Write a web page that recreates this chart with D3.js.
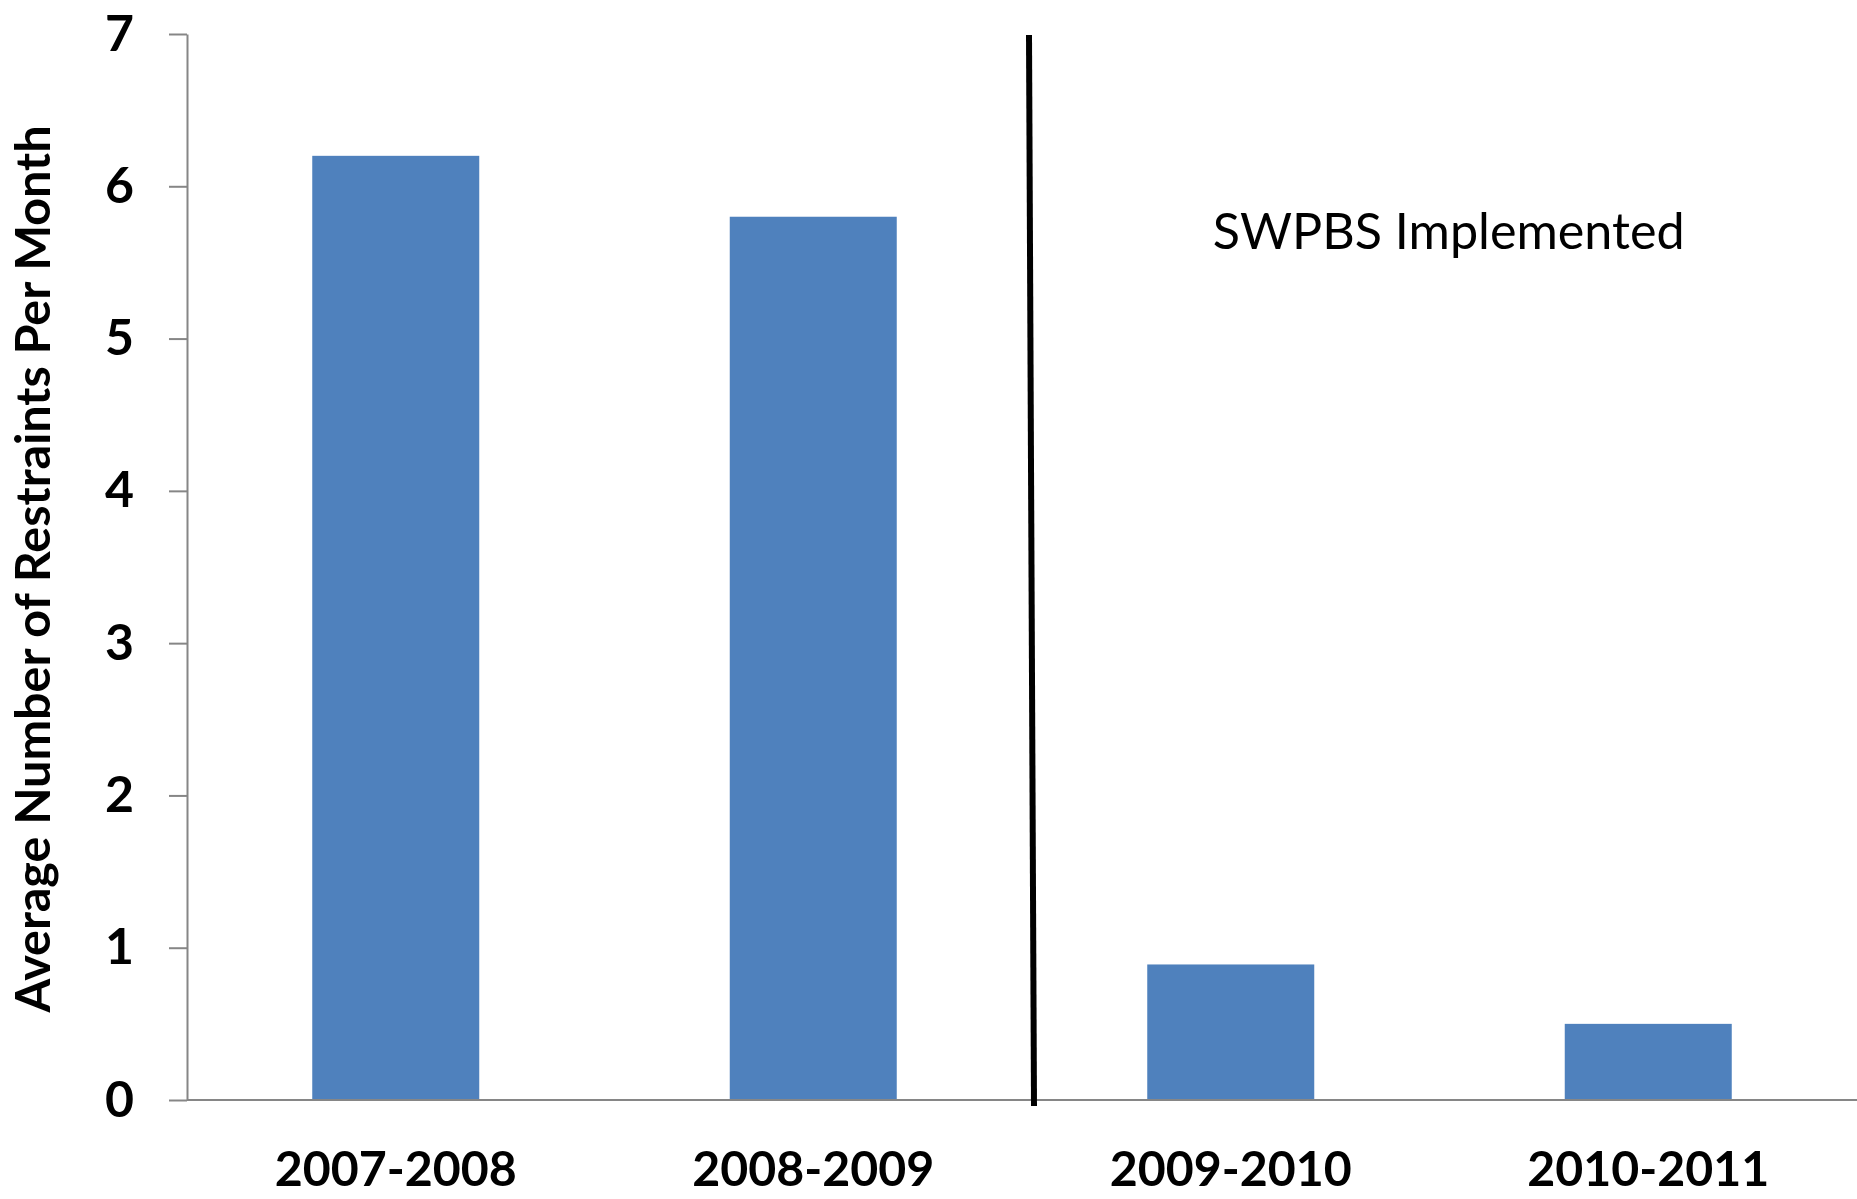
<!DOCTYPE html>
<html>
<head>
<meta charset="utf-8">
<script src="https://cdn.jsdelivr.net/npm/d3@7"></script>
<style>
  body { margin: 0; background: #fff; }
  text { font-family: Lato, "Open Sans", sans-serif; fill: #000; }
</style>
</head>
<body>
<div id="chart"></div>
<script>
// data
var categories = ["2007-2008", "2008-2009", "2009-2010", "2010-2011"];
var values = [6.2, 5.8, 0.89, 0.5];
var yTicks = [0, 1, 2, 3, 4, 5, 6, 7];
var yTitle = "Average Number of Restraints Per Month";
var note = "SWPBS Implemented";

var W = 1857, H = 1199;
var margin = { top: 34, right: 0, bottom: 99, left: 187 };
var width = W - margin.left - margin.right,
    height = H - margin.top - margin.bottom;

var svg = d3.select("#chart").append("svg")
    .attr("width", W)
    .attr("height", H);

var g = svg.append("g")
    .attr("transform", "translate(" + margin.left + "," + margin.top + ")");

var x = d3.scaleBand()
    .domain(categories)
    .range([0, width])
    .paddingInner(0.6)
    .paddingOuter(0.3);

var y = d3.scaleLinear()
    .domain([0, 7])
    .range([height, 0]);

// bars
g.selectAll(".bar")
    .data(values)
    .enter().append("rect")
    .attr("class", "bar")
    .attr("x", function (d, i) { return x(categories[i]); })
    .attr("y", function (d) { return y(d); })
    .attr("width", x.bandwidth())
    .attr("height", function (d) { return height - y(d); })
    .attr("fill", "#4F81BD");

// y axis
var yAxis = d3.axisLeft(y)
    .tickValues(yTicks)
    .tickSize(18)
    .tickSizeOuter(0)
    .tickPadding(35)
    .tickFormat(d3.format("d"));

var ya = g.append("g").call(yAxis);
ya.select(".domain").attr("stroke", "#868686").attr("stroke-width", 2);
ya.selectAll(".tick line").attr("stroke", "#868686").attr("stroke-width", 2);
ya.selectAll(".tick text")
    .attr("font-size", 50)
    .attr("font-weight", "bold")
    .attr("font-family", "Lato, sans-serif")
    .attr("fill", "#000");

// x axis baseline
g.append("line")
    .attr("x1", 0).attr("x2", width)
    .attr("y1", y(0)).attr("y2", y(0))
    .attr("stroke", "#868686")
    .attr("stroke-width", 2);

// category labels
var xl = g.selectAll(".xlab")
    .data(categories)
    .enter().append("text")
    .attr("class", "xlab")
    .attr("x", function (d) { return x(d) + x.bandwidth() / 2; })
    .attr("y", height + 86)
    .attr("text-anchor", "middle")
    .attr("font-size", 52)
    .attr("font-weight", "bold")
    .text(function (d) { return d; });

// y title
var yt = svg.append("text")
    .attr("transform", "translate(50," + (margin.top + y(3.5) + 2) + ") rotate(-90)")
    .attr("text-anchor", "middle")
    .attr("font-size", 44)
    .attr("font-weight", "bold")
    .text(yTitle);

// fit text widths to the reference
function fit(sel, target) {
    var w = sel.node().getComputedTextLength();
    var fs = +sel.attr("font-size");
    sel.attr("font-size", fs * target / w);
}
fit(yt, 887);
xl.each(function () { fit(d3.select(this), 242); });

// divider between before/after
var split = (x(categories[1]) + x.bandwidth() + x(categories[2])) / 2;
g.append("line")
    .attr("x1", split + 7).attr("y1", y(7) + 1)
    .attr("x2", split + 12).attr("y2", y(0) + 6)
    .attr("stroke", "#000")
    .attr("stroke-width", 6);

// annotation
var nt = g.append("text")
    .attr("x", x(categories[2]) + x.bandwidth() / 2 + 218)
    .attr("y", y(5.8) + 32)
    .attr("text-anchor", "middle")
    .attr("font-size", 50)
    .text(note);
fit(nt, 472);
</script>
</body>
</html>
